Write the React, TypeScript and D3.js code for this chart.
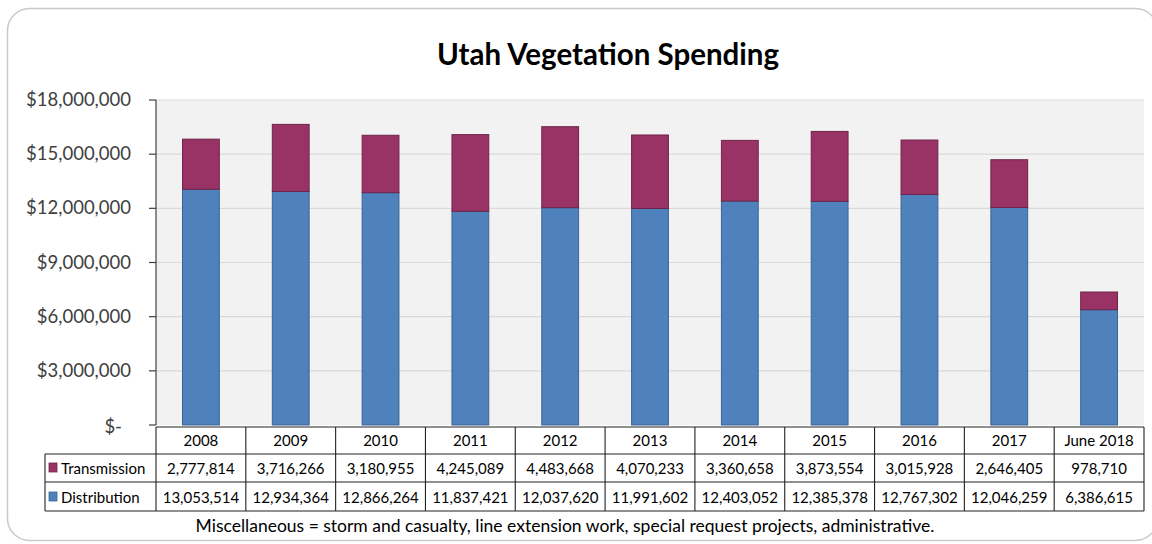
import React from "react";
import * as d3 from "d3";

const categories = ["2008", "2009", "2010", "2011", "2012", "2013", "2014", "2015", "2016", "2017", "June 2018"];
const transmission = [2777814, 3716266, 3180955, 4245089, 4483668, 4070233, 3360658, 3873554, 3015928, 2646405, 978710];
const distribution = [13053514, 12934364, 12866264, 11837421, 12037620, 11991602, 12403052, 12385378, 12767302, 12046259, 6386615];
const yTicks = [0, 3000000, 6000000, 9000000, 12000000, 15000000, 18000000];
const seriesNames = ["Distribution", "Transmission"];
const title = "Utah Vegetation Spending";
const footnote = "Miscellaneous = storm and casualty, line extension work, special request projects, administrative.";

const W = 1152, H = 544;
const FONT = "Lato, 'Open Sans', sans-serif";
const COLORS: Record<string, string> = { Distribution: "#4f81bd", Transmission: "#993366" };
const STROKES: Record<string, string> = { Distribution: "#3a6594", Transmission: "#6e2449" };

export default function App() {
  const left = 156, right = 1144, top = 100, bottom = 425;
  const x = d3.scaleBand<string>().domain(categories).range([left, right]).paddingInner(0).paddingOuter(0);
  const y = d3.scaleLinear().domain([0, 18000000]).range([bottom, top]);
  const rows = categories.map((c, i) => ({ cat: c, Distribution: distribution[i], Transmission: transmission[i] }));
  const stacked = d3.stack<any>().keys(seriesNames)(rows);
  const bw = x.bandwidth() * 0.41;
  const fmtTick = (v: number) => (v === 0 ? "$-" : "$" + d3.format(",")(v));
  const fmtNum = d3.format(",");

  const tableTop = 427, rowH = [27, 28, 29];
  const rowY = [tableTop, tableTop + rowH[0], tableTop + rowH[0] + rowH[1], tableTop + rowH[0] + rowH[1] + rowH[2]];
  const tblLeft = 45;

  return (
    <svg width={W} height={H} style={{ position: "absolute", left: 0, top: 0, background: "#fff" }} fontFamily={FONT}>
      <rect x={7.5} y={8.5} width={1150} height={532} rx={22} ry={22} fill="#fff" stroke="#c9c9c9" strokeWidth={1.5} />
      <text x={608} y={65} textAnchor="middle" fontSize={29.5} fontWeight="bold" fill="#000">{title}</text>

      <rect x={left} y={top} width={right - left} height={bottom - top} fill="#f2f2f2" />
      {yTicks.map((t) => (
        <g key={t}>
          {t > 0 && <line x1={left} x2={right} y1={y(t)} y2={y(t)} stroke="#d9d9d9" strokeWidth={1.2} />}
          <line x1={149} x2={left} y1={y(t)} y2={y(t)} stroke="#404040" strokeWidth={1.2} />
          <text x={t === 0 ? 122 : 131} y={y(t) + (t === 0 ? 8 : 6)} textAnchor="end" fontSize={18.5} fill="#404040">{fmtTick(t)}</text>
        </g>
      ))}

      {stacked.map((s) => (
        <g key={s.key}>
          {s.map((d, i) => (
            <rect key={i} x={(x(categories[i]) as number) + (x.bandwidth() - bw) / 2} y={y(d[1])} width={bw} height={y(d[0]) - y(d[1])}
              fill={COLORS[s.key]} stroke={STROKES[s.key]} strokeWidth={1} />
          ))}
        </g>
      ))}
      <line x1={left} x2={left} y1={top} y2={bottom} stroke="#404040" strokeWidth={1.2} />

      {/* data table */}
      <g stroke="#222" strokeWidth={1.1} fill="none">
        <line x1={left} x2={right} y1={rowY[0]} y2={rowY[0]} />
        <line x1={tblLeft} x2={right} y1={rowY[1]} y2={rowY[1]} />
        <line x1={tblLeft} x2={right} y1={rowY[2]} y2={rowY[2]} />
        <line x1={tblLeft} x2={right} y1={rowY[3]} y2={rowY[3]} />
        <line x1={tblLeft} x2={tblLeft} y1={rowY[1]} y2={rowY[3]} />
        {categories.map((c) => (
          <line key={c} x1={x(c)} x2={x(c)} y1={rowY[0]} y2={rowY[3]} />
        ))}
        <line x1={right} x2={right} y1={rowY[0]} y2={rowY[3]} />
      </g>
      {categories.map((c, i) => {
        const cx = (x(c) as number) + x.bandwidth() / 2;
        return (
          <g key={c} fontSize={15} fill="#000" textAnchor="middle">
            <text x={cx} y={rowY[0] + 19}>{c}</text>
            <text x={cx} y={rowY[1] + 19.5}>{fmtNum(transmission[i])}</text>
            <text x={cx} y={rowY[2] + 20.5}>{fmtNum(distribution[i])}</text>
          </g>
        );
      })}
      {["Transmission", "Distribution"].map((k, j) => (
        <g key={k}>
          <rect x={49} y={rowY[j + 1] + (j === 0 ? 9 : 10)} width={8} height={9} fill={COLORS[k]} stroke={STROKES[k]} strokeWidth={0.8} />
          <text x={61} y={rowY[j + 1] + (j === 0 ? 19.5 : 20.5)} fontSize={15} fill="#000">{k}</text>
        </g>
      ))}

      <text x={565} y={532} textAnchor="middle" fontSize={17.5} fill="#000">{footnote}</text>
    </svg>
  );
}
